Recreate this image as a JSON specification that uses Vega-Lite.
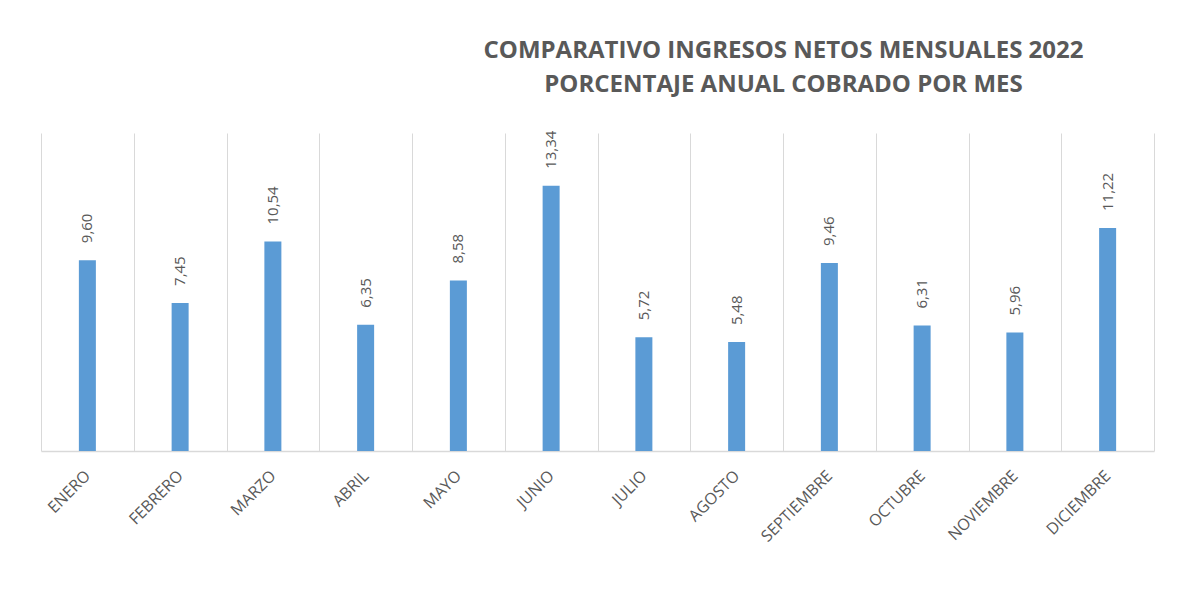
{
  "$schema": "https://vega.github.io/schema/vega-lite/v6.json",
  "autosize": {"type": "none"},
  "padding": {"left": 41, "top": 133, "right": 25, "bottom": 147},
  "width": 1113,
  "height": 318,
  "background": "white",
  "config": {
    "view": {"stroke": null},
    "font": "Open Sans",
    "locale": {"number": {"decimal": ",", "thousands": ".", "grouping": [3], "currency": ["", " €"]}}
  },
  "title": {
    "text": ["COMPARATIVO INGRESOS NETOS MENSUALES 2022", "PORCENTAJE ANUAL COBRADO POR MES"],
    "anchor": "middle",
    "frame": "group",
    "dx": 186,
    "offset": 34,
    "font": "Open Sans",
    "fontSize": 24,
    "fontWeight": "bold",
    "color": "#595959",
    "lineHeight": 34
  },
  "data": {
    "values": [
      {"mes": "ENERO", "pct": 9.60},
      {"mes": "FEBRERO", "pct": 7.45},
      {"mes": "MARZO", "pct": 10.54},
      {"mes": "ABRIL", "pct": 6.35},
      {"mes": "MAYO", "pct": 8.58},
      {"mes": "JUNIO", "pct": 13.34},
      {"mes": "JULIO", "pct": 5.72},
      {"mes": "AGOSTO", "pct": 5.48},
      {"mes": "SEPTIEMBRE", "pct": 9.46},
      {"mes": "OCTUBRE", "pct": 6.31},
      {"mes": "NOVIEMBRE", "pct": 5.96},
      {"mes": "DICIEMBRE", "pct": 11.22}
    ]
  },
  "encoding": {
    "x": {
      "field": "mes",
      "type": "nominal",
      "sort": null,
      "scale": {"paddingInner": 0, "paddingOuter": 0},
      "axis": {
        "title": null,
        "labelAngle": -45,
        "labelAlign": "right",
        "labelBaseline": "middle",
        "labelPadding": 22,
        "labelFont": "Open Sans",
        "labelFontSize": 16,
        "labelColor": "#595959",
        "ticks": false,
        "grid": true,
        "tickBand": "extent",
        "gridColor": "#d9d9d9",
        "gridWidth": 1,
        "domainColor": "#d9d9d9",
        "domainWidth": 1.5
      }
    },
    "y": {
      "field": "pct",
      "type": "quantitative",
      "scale": {"domain": [0, 16], "nice": false},
      "axis": null
    }
  },
  "layer": [
    {"mark": {"type": "bar", "size": 17, "color": "#5b9bd5"}},
    {
      "mark": {
        "type": "text",
        "angle": 270,
        "align": "left",
        "baseline": "middle",
        "dx": 17,
        "font": "Open Sans",
        "fontSize": 15,
        "color": "#595959"
      },
      "encoding": {"text": {"field": "pct", "type": "quantitative", "format": ".2f"}}
    }
  ]
}
